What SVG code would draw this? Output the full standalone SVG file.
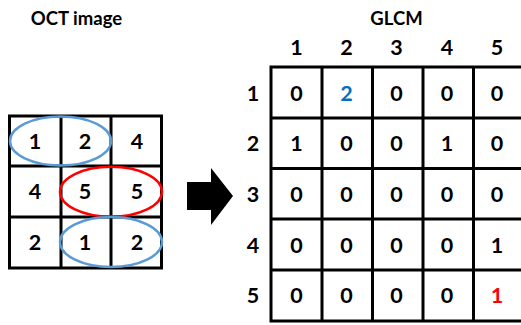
<svg xmlns="http://www.w3.org/2000/svg" width="521" height="325" viewBox="0 0 521 325">
<style>
text{font-family:Lato,"Open Sans","Liberation Sans",sans-serif;font-weight:bold;fill:#000;text-anchor:middle}
.t{font-size:18.5px}
.n{font-size:21.5px}
.grid{fill:none;stroke:#000;stroke-width:3}
.ell{fill:none;stroke-width:2.5}
</style>
<rect width="521" height="325" fill="#fff"/>
<g id="oct-image">
<text class="t" x="76.5" y="25">OCT image</text>
<rect class="grid" x="9.5" y="116" width="152" height="152"/>
<line class="grid" x1="61" y1="116" x2="61" y2="268"/>
<line class="grid" x1="111" y1="116" x2="111" y2="268"/>
<line class="grid" x1="9.5" y1="166" x2="161.5" y2="166"/>
<line class="grid" x1="9.5" y1="217" x2="161.5" y2="217"/>
<text class="n" x="35" y="149">1</text>
<text class="n" x="85" y="149">2</text>
<text class="n" x="137" y="149">4</text>
<text class="n" x="35" y="199">4</text>
<text class="n" x="85" y="199">5</text>
<text class="n" x="137" y="199">5</text>
<text class="n" x="35" y="250">2</text>
<text class="n" x="85" y="250">1</text>
<text class="n" x="137" y="250">2</text>
<ellipse class="ell" cx="60.5" cy="141" rx="50.5" ry="24.5" stroke="#5b9bd5"/>
<ellipse class="ell" cx="111" cy="191.7" rx="51" ry="25" stroke="#ff0000"/>
<ellipse class="ell" cx="111" cy="242" rx="51" ry="25" stroke="#5b9bd5"/>
</g>
<g id="connectors">
<polygon points="187,182 211,182 211,168 233,196 211,225 211,210 187,210" fill="#000"/>
</g>
<g id="glcm">
<text class="t" x="396.5" y="25">GLCM</text>
<text class="n" x="296.5" y="55">1</text>
<text class="n" x="346.5" y="55">2</text>
<text class="n" x="396.5" y="55">3</text>
<text class="n" x="447" y="55">4</text>
<text class="n" x="497" y="55">5</text>
<text class="n" x="253" y="101">1</text>
<text class="n" x="253" y="151">2</text>
<text class="n" x="253" y="202">3</text>
<text class="n" x="253" y="253">4</text>
<text class="n" x="253" y="303">5</text>
<rect class="grid" x="271" y="67" width="256" height="254"/>
<line class="grid" x1="322" y1="67" x2="322" y2="321"/>
<line class="grid" x1="372.5" y1="67" x2="372.5" y2="321"/>
<line class="grid" x1="423" y1="67" x2="423" y2="321"/>
<line class="grid" x1="473.5" y1="67" x2="473.5" y2="321"/>
<line class="grid" x1="271" y1="118" x2="527" y2="118"/>
<line class="grid" x1="271" y1="168.5" x2="527" y2="168.5"/>
<line class="grid" x1="271" y1="219" x2="527" y2="219"/>
<line class="grid" x1="271" y1="270" x2="527" y2="270"/>
<text class="n" x="296.5" y="101">0</text>
<text class="n" x="346.5" y="101" style="fill:#0070c0">2</text>
<text class="n" x="396.5" y="101">0</text>
<text class="n" x="447" y="101">0</text>
<text class="n" x="497" y="101">0</text>
<text class="n" x="296.5" y="151">1</text>
<text class="n" x="346.5" y="151">0</text>
<text class="n" x="396.5" y="151">0</text>
<text class="n" x="447" y="151">1</text>
<text class="n" x="497" y="151">0</text>
<text class="n" x="296.5" y="202">0</text>
<text class="n" x="346.5" y="202">0</text>
<text class="n" x="396.5" y="202">0</text>
<text class="n" x="447" y="202">0</text>
<text class="n" x="497" y="202">0</text>
<text class="n" x="296.5" y="253">0</text>
<text class="n" x="346.5" y="253">0</text>
<text class="n" x="396.5" y="253">0</text>
<text class="n" x="447" y="253">0</text>
<text class="n" x="497" y="253">1</text>
<text class="n" x="296.5" y="303">0</text>
<text class="n" x="346.5" y="303">0</text>
<text class="n" x="396.5" y="303">0</text>
<text class="n" x="447" y="303">0</text>
<text class="n" x="497" y="303" style="fill:#ff0000">1</text>
</g>
</svg>
